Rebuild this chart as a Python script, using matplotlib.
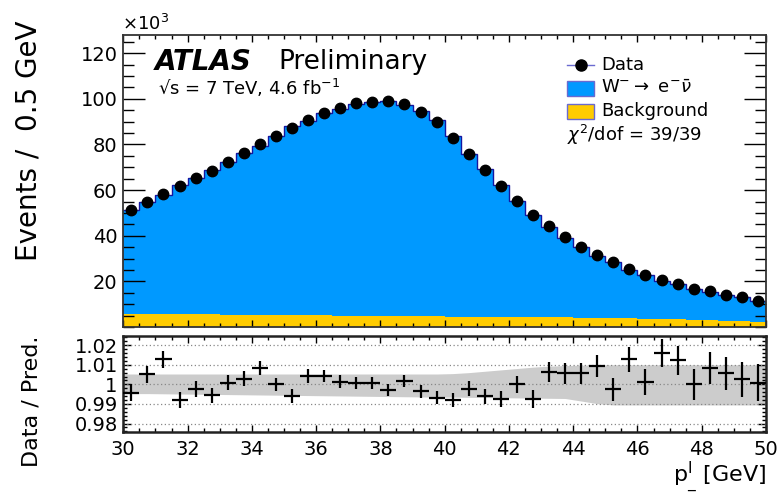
import numpy as np
import matplotlib
matplotlib.use("Agg")
import matplotlib.pyplot as plt
from matplotlib.patches import Rectangle
from matplotlib.lines import Line2D
from matplotlib.ticker import MultipleLocator


# binning of the pT histogram (GeV)
x_lo = 30.0
x_hi = 50.0
bin_w = 0.5

# data events per bin, in units of 10^3
data = [51.2, 55.0, 58.5, 61.6, 65.1, 68.5, 72.3, 76.3, 80.2, 83.7,
        87.4, 90.8, 94.0, 95.9, 98.0, 98.7, 98.9, 97.7, 94.3, 90.0,
        83.0, 75.7, 68.7, 61.8, 55.2, 48.9, 44.2, 39.3, 35.1, 31.4,
        28.4, 25.4, 22.9, 20.4, 19.0, 16.8, 15.6, 14.2, 13.0, 11.6]

# background per bin, 10^3
bkg = [5.8, 5.6, 5.6, 5.6, 5.6, 5.5, 5.3, 5.4, 5.3, 5.3,
       5.2, 5.1, 5.2, 5.0, 4.9, 5.0, 4.8, 4.8, 4.8, 4.7,
       4.5, 4.4, 4.4, 4.3, 4.3, 4.3, 4.2, 4.2, 4.1, 4.1,
       4.0, 3.9, 3.7, 3.5, 3.3, 3.1, 2.9, 2.7, 2.5, 2.3]

# data / prediction
ratio = [0.9958, 1.0051, 1.0128, 0.9920, 0.9978, 0.9944, 1.0008, 1.0029, 1.0082, 1.0000,
         0.9940, 1.0043, 1.0043, 1.0014, 1.0008, 1.0008, 0.9971, 1.0017, 0.9966, 0.9932,
         0.9920, 0.9978, 0.9940, 0.9927, 1.0000, 0.9923, 1.0063, 1.0056, 1.0056, 1.0094,
         0.9974, 1.0128, 1.0014, 1.0162, 1.0122, 1.0000, 1.0085, 1.0056, 1.0026, 1.0009]

ratio_err = [0.0045, 0.0043, 0.0042, 0.0041, 0.0040, 0.0039, 0.0038, 0.0037, 0.0036, 0.0035,
             0.0034, 0.0034, 0.0033, 0.0033, 0.0032, 0.0032, 0.0032, 0.0032, 0.0033, 0.0034,
             0.0035, 0.0037, 0.0039, 0.0041, 0.0043, 0.0046, 0.0049, 0.0052, 0.0055, 0.0058,
             0.0061, 0.0064, 0.0067, 0.0071, 0.0074, 0.0078, 0.0081, 0.0085, 0.0089, 0.0094]

# grey uncertainty band in the ratio panel
band_hi = [1.0053, 1.0053, 1.0053, 1.0053, 1.0053, 1.0053, 1.0053, 1.0053, 1.0053, 1.0053,
           1.0053, 1.0053, 1.0053, 1.0053, 1.0053, 1.0053, 1.0053, 1.0053, 1.0053, 1.0053,
           1.0055, 1.0060, 1.0067, 1.0074, 1.0081, 1.0088, 1.0093, 1.0096, 1.0098, 1.0100,
           1.0100, 1.0100, 1.0100, 1.0100, 1.0100, 1.0100, 1.0100, 1.0100, 1.0100, 1.0100]
band_lo = [0.9953, 0.9953, 0.9952, 0.9951, 0.9950, 0.9949, 0.9948, 0.9947, 0.9946, 0.9945,
           0.9944, 0.9943, 0.9942, 0.9941, 0.9940, 0.9939, 0.9938, 0.9937, 0.9936, 0.9935,
           0.9935, 0.9934, 0.9933, 0.9932, 0.9931, 0.9930, 0.9929, 0.9928, 0.9915, 0.9902,
           0.9895, 0.9895, 0.9895, 0.9895, 0.9895, 0.9895, 0.9895, 0.9895, 0.9895, 0.9895]

ratio_ticks = [0.98, 0.99, 1.00, 1.01, 1.02]
ratio_ticklabels = ["0.98", "0.99", "1", "1.01", "1.02"]

blue = "#0099ff"
yellow = "#ffcc00"
edge_col = "#6a6ad0"

W, H = 779, 498


def fx(x):
    return x / W


def fy(y):
    return 1 - y / H


edges = np.arange(x_lo, x_hi + bin_w / 2, bin_w)
centers = edges[:-1] + bin_w / 2
data = np.array(data)
bkg = np.array(bkg)
pred = data / np.array(ratio)

fig = plt.figure(figsize=(W / 100, H / 100), dpi=100)
ax1 = fig.add_axes([fx(123.3), fy(327), fx(766) - fx(123.3), (327 - 35) / H])
ax2 = fig.add_axes([fx(123.3), fy(432), fx(766) - fx(123.3), (432 - 336) / H])

# main panel
ax1.stairs(bkg, edges, fill=True, color=yellow, lw=0)
ax1.stairs(pred, edges, baseline=bkg, fill=True, color=blue, lw=0)
ax1.stairs(pred, edges, baseline=None, color="#1515a0", lw=1.0)
ax1.plot(centers, data, "o", color="black", ms=7.5, zorder=5)

ax1.set_xlim(x_lo, x_hi)
ax1.set_ylim(0, 128)
ax1.set_yticks([20, 40, 60, 80, 100, 120])
ax1.yaxis.set_minor_locator(MultipleLocator(5))
ax1.xaxis.set_major_locator(MultipleLocator(2))
ax1.xaxis.set_minor_locator(MultipleLocator(0.5))
ax1.tick_params(axis="y", which="major", direction="in", length=16, width=1.0,
                left=True, right=True, labelsize=14, pad=4)
ax1.tick_params(axis="y", which="minor", direction="in", length=8, width=1.0,
                left=True, right=True)
ax1.tick_params(axis="x", which="major", direction="in", length=5, width=1.0,
                top=True, bottom=True, labelbottom=False)
ax1.tick_params(axis="x", which="minor", direction="in", length=3, width=1.0,
                top=True, bottom=True)
for s in ax1.spines.values():
    s.set_linewidth(1.3)
    s.set_color("#333333")

# ratio panel
band_x = np.r_[x_lo, centers, x_hi]
ax2.fill_between(band_x, np.r_[band_lo[0], band_lo, band_lo[-1]],
                 np.r_[band_hi[0], band_hi, band_hi[-1]], color="#cccccc", lw=0, zorder=1)
for v in ratio_ticks:
    ax2.axhline(v, color="#888888", ls=(0, (1, 2)), lw=0.9, zorder=2)
ax2.errorbar(centers, ratio, yerr=ratio_err, xerr=bin_w / 2, fmt="none",
             ecolor="black", elinewidth=1.6, capsize=0, zorder=3)

ax2.set_xlim(x_lo, x_hi)
ax2.set_ylim(0.9757, 1.0247)
ax2.set_yticks(ratio_ticks)
ax2.set_yticklabels(ratio_ticklabels)
ax2.yaxis.set_minor_locator(MultipleLocator(0.002))
ax2.xaxis.set_major_locator(MultipleLocator(2))
ax2.xaxis.set_minor_locator(MultipleLocator(0.5))
ax2.tick_params(axis="y", which="major", direction="in", length=6, width=1.0,
                left=True, right=True, labelsize=14, pad=4)
ax2.tick_params(axis="y", which="minor", direction="in", length=3, width=1.0,
                left=True, right=True)
ax2.tick_params(axis="x", which="major", direction="in", length=5, width=1.0,
                top=True, bottom=True, labelsize=14, pad=6)
ax2.tick_params(axis="x", which="minor", direction="in", length=3, width=1.0,
                top=True, bottom=True)
for s in ax2.spines.values():
    s.set_linewidth(1.8)
    s.set_color("#222222")

# axis titles
fig.text(fx(29), fy(141), "Events /  0.5 GeV", rotation=90, ha="center", va="center", fontsize=20)
fig.text(fx(32), fy(401), "Data / Pred.", rotation=90, ha="center", va="center", fontsize=16)
fig.text(fx(766), fy(478), r"p$^{\rm l}_{\rm \_}$ [GeV]", ha="right", va="center", fontsize=16)
fig.text(fx(122), fy(24), r"$\times$10$^{3}$", ha="left", va="center", fontsize=13)

# labels
fig.text(fx(155), fy(62), "ATLAS", fontsize=20, fontweight="bold", fontstyle="italic",
         ha="left", va="center")
fig.text(fx(278), fy(62), "Preliminary", fontsize=19, ha="left", va="center")
fig.text(fx(158), fy(88), "√s = 7 TeV, 4.6 fb$^{-1}$", fontsize=13, ha="left", va="center")

# legend drawn by hand
fig.add_artist(Line2D([fx(567), fx(594)], [fy(65), fy(65)], color=edge_col, lw=1.0))
fig.add_artist(Line2D([fx(580.5)], [fy(65)], marker="o", color="black", ms=8, lw=0))
fig.text(fx(601), fy(65), "Data", fontsize=13, ha="left", va="center")
fig.add_artist(Rectangle((fx(567), fy(96)), 27 / W, 15 / H, facecolor=blue,
                         edgecolor=edge_col, lw=1.0, transform=fig.transFigure))
fig.text(fx(601), fy(88), r"W$^{-}$$\rightarrow$ e$^{-}$$\bar{\nu}$", fontsize=13,
         ha="left", va="center")
fig.add_artist(Rectangle((fx(567), fy(119)), 27 / W, 15 / H, facecolor=yellow,
                         edgecolor=edge_col, lw=1.0, transform=fig.transFigure))
fig.text(fx(601), fy(111.5), "Background", fontsize=13, ha="left", va="center")
fig.text(fx(567), fy(135), r"$\chi^{2}$/dof = 39/39", fontsize=13, ha="left", va="center")

fig.savefig("out.png", dpi=100)
